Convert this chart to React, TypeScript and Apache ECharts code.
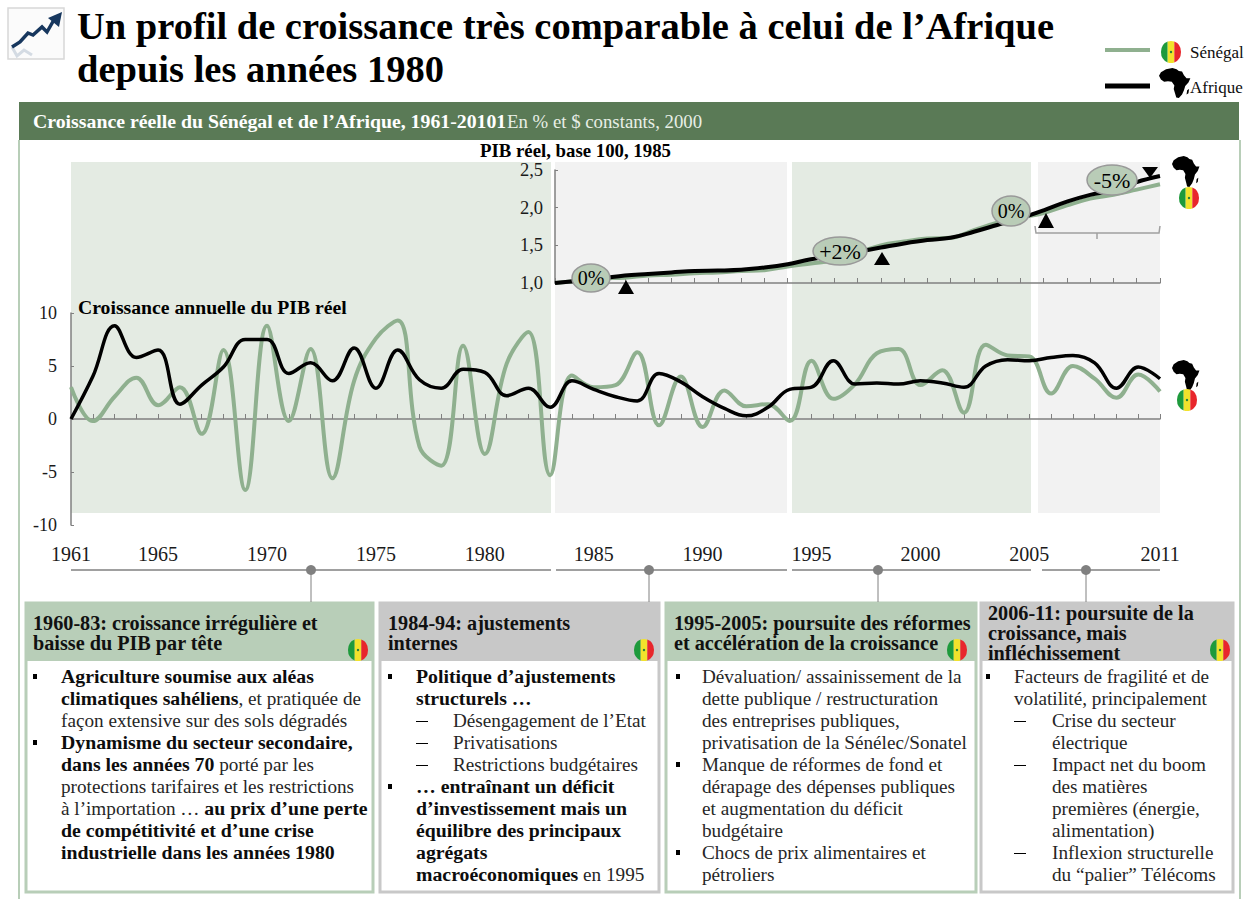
import React, { useEffect, useRef } from "react";
import * as echarts from "echarts";

const years = ["1961","1962","1963","1964","1965","1966","1967","1968","1969","1970","1971","1972","1973","1974","1975","1976","1977","1978","1979","1980","1981","1982","1983","1984","1985","1986","1987","1988","1989","1990","1991","1992","1993","1994","1995","1996","1997","1998","1999","2000","2001","2002","2003","2004","2005","2006","2007","2008","2009","2010","2011"];
const labelledYears = ["1961","1965","1970","1975","1980","1985","1990","1995","2000","2005","2011"];
const growthSenegal = [3.0,-0.2,2.1,3.9,1.3,3.0,-1.4,6.5,-6.7,8.8,-0.2,6.6,-5.6,3.6,7.6,9.3,-2.6,-4.4,6.9,-3.3,5.2,8.2,-5.3,4.1,3.0,3.2,6.3,-0.6,4.0,-0.75,2.7,1.2,1.4,-0.2,5.5,1.9,3.3,6.2,6.6,3.2,4.6,0.6,7.0,6.0,5.9,2.4,5.0,3.8,2.0,4.2,2.6];
const growthAfrica = [0,4.0,8.8,5.8,6.5,1.4,3.2,4.9,7.5,7.5,4.3,5.3,3.6,6.7,2.9,6.5,3.7,2.9,4.7,4.4,2.2,2.9,1.1,3.6,2.8,2.1,1.7,4.3,3.5,2.1,1.0,0.3,1.1,2.8,3.0,5.5,3.3,3.4,3.3,3.6,3.4,3.0,5.0,5.6,5.5,5.8,6.0,5.3,2.9,4.9,3.8];
const indexYears = ["1985","1986","1987","1988","1989","1990","1991","1992","1993","1994","1995","1996","1997","1998","1999","2000","2001","2002","2003","2004","2005","2006","2007","2008","2009","2010","2011"];
const indexSenegal = [1.0,1.03,1.06,1.07,1.10,1.11,1.13,1.14,1.16,1.17,1.22,1.26,1.30,1.40,1.50,1.55,1.59,1.60,1.70,1.80,1.87,1.93,2.03,2.12,2.17,2.24,2.31];
const indexAfrica = [1.0,1.03,1.06,1.10,1.12,1.14,1.16,1.165,1.175,1.205,1.25,1.315,1.36,1.415,1.47,1.525,1.57,1.60,1.68,1.77,1.86,1.965,2.08,2.17,2.23,2.34,2.42];

const titleLines = ["Un profil de croissance très comparable à celui de l’Afrique", "depuis les années 1980"];
const subtitleBold = "Croissance réelle du Sénégal et de l’Afrique, 1961-20101";
const subtitleUnit = "En % et $ constants, 2000";
const indexTitle = "PIB réel, base 100, 1985";
const growthTitle = "Croissance annuelle du PIB réel";

const F = '"Liberation Serif", serif';
const GREEN = "#8fb08f";
const INK = "#0d0d0d";
const GREY = "#808080";

const boxes = [
  { x: 25, w: 349, fill: "#b8ceb8", border: "#b8ceb8", tx: 33, ty: [623, 643], flag: 358, head: ["1960-83: croissance irrégulière et", "baisse du PIB par tête"], bx: 33, t1: 61, t2: 61,
    lines: [["b", "**Agriculture soumise aux aléas**"], ["", "**climatiques sahéliens**, et pratiquée de"], ["", "façon extensive sur des sols dégradés"], ["b", "**Dynamisme du secteur secondaire,**"], ["", "**dans les années 70** porté par les"], ["", "protections tarifaires et les restrictions"], ["", "à l’importation … **au prix d’une perte**"], ["", "**de compétitivité et d’une crise**"], ["", "**industrielle dans les années 1980**"]] },
  { x: 379, w: 281, fill: "#c8c8c8", border: "#c8c8c8", tx: 388, ty: [623, 643], flag: 644, head: ["1984-94: ajustements", "internes"], bx: 388, t1: 416, t2: 453,
    lines: [["b", "**Politique d’ajustements**"], ["", "**structurels …**"], ["d", "Désengagement de l’Etat"], ["d", "Privatisations"], ["d", "Restrictions budgétaires"], ["b", "**… entraînant un déficit**"], ["", "**d’investissement mais un**"], ["", "**équilibre des principaux**"], ["", "**agrégats**"], ["", "**macroéconomiques** en 1995"]] },
  { x: 665, w: 312, fill: "#b8ceb8", border: "#b8ceb8", tx: 674, ty: [623, 643], flag: 957, head: ["1995-2005: poursuite des réformes", "et accélération de la croissance"], bx: 676, t1: 702, t2: 702,
    lines: [["b", "Dévaluation/ assainissement de la"], ["", "dette publique / restructuration"], ["", "des entreprises publiques,"], ["", "privatisation de la Sénélec/Sonatel"], ["b", "Manque de réformes de fond et"], ["", "dérapage des dépenses publiques"], ["", "et augmentation du déficit"], ["", "budgétaire"], ["b", "Chocs de prix alimentaires et"], ["", "pétroliers"]] },
  { x: 980, w: 254, fill: "#c8c8c8", border: "#c8c8c8", tx: 988, ty: [613, 633, 653], flag: 1220, head: ["2006-11: poursuite de la", "croissance, mais", "infléchissement"], bx: 986, t1: 1014, t2: 1052,
    lines: [["b", "Facteurs de fragilité et de"], ["", "volatilité, principalement"], ["d", "Crise du secteur"], ["c", "électrique"], ["d", "Impact net du boom"], ["c", "des matières"], ["c", "premières (énergie,"], ["c", "alimentation)"], ["d", "Inflexion structurelle"], ["c", "du “palier” Télécoms"]] },
];

const bubbles = [
  { label: "0%", cx: 591, cy: 278, rx: 19, ry: 14 },
  { label: "+2%", cx: 840, cy: 251, rx: 27, ry: 14 },
  { label: "0%", cx: 1011, cy: 211, rx: 19, ry: 15 },
  { label: "-5%", cx: 1112, cy: 180, rx: 25, ry: 15 },
];
const timeline = [
  { x1: 71, x2: 551, dot: 311 },
  { x1: 556, x2: 787, dot: 649 },
  { x1: 792, x2: 1031, dot: 878 },
  { x1: 1042, x2: 1160, dot: 1086 },
];
const bands = [
  { x1: 71, x2: 551, fill: "#e4ebe3" },
  { x1: 555, x2: 787, fill: "#f2f2f2" },
  { x1: 792, x2: 1031, fill: "#e4ebe3" },
  { x1: 1038, x2: 1160, fill: "#f2f2f2" },
];

echarts.graphic.registerShape("africa", echarts.graphic.extendPath("M22 4 L42 0 L55 4 L62 10 L72 12 L78 24 L86 34 L98 34 L92 48 L82 60 L78 74 L72 88 L62 100 L54 98 L50 84 L46 70 L48 58 L40 46 L28 44 L16 46 L6 38 L0 26 L6 14 Z M88 74 L94 70 L92 84 L86 88 Z", {}));
echarts.graphic.registerShape("flagL", echarts.graphic.extendPath("M-3.3 -9.44 A10 10 0 0 0 -3.3 9.44 Z", {}));
echarts.graphic.registerShape("flagM", echarts.graphic.extendPath("M-3.3 -9.44 A10 10 0 0 1 3.3 -9.44 L3.3 9.44 A10 10 0 0 1 -3.3 9.44 Z", {}));
echarts.graphic.registerShape("flagR", echarts.graphic.extendPath("M3.3 -9.44 A10 10 0 0 1 3.3 9.44 Z", {}));

const flag = (x: number, y: number, z = 50) => ({
  type: "group", x, y, z,
  children: [
    { type: "flagL", scaleY: 1.1, style: { fill: "#1e9a3c" }, z },
    { type: "flagM", scaleY: 1.1, style: { fill: "#f2e22c" }, z },
    { type: "flagR", scaleY: 1.1, style: { fill: "#e8262c" }, z },
    { type: "circle", shape: { cx: 0, cy: 0, r: 1.2 }, style: { fill: "#1e7a3c" }, z: z + 1 },
  ],
});
const africa = (x: number, y: number, w: number, h: number) => ({
  type: "africa", x, y, scaleX: w / 100, scaleY: h / 100, style: { fill: "#000" }, z: 50,
});
const text = (x: number, y: number, s: string, size: number, weight: string | number = "normal", fill = INK, align = "left") => ({
  type: "text", x, y, z: 60,
  style: { text: s, fontFamily: F, fontSize: size, fontWeight: weight, fill, align, verticalAlign: "middle" },
});
const richLine = (x: number, y: number, s: string) => {
  const parts = s.split("**");
  const str = parts.map((p, i) => (p ? `{${i % 2 ? "b" : "n"}|${p}}` : "")).join("");
  return {
    type: "text", x, y, z: 60,
    style: {
      text: str, fontFamily: F, fontSize: 19.2, fill: INK, align: "left", verticalAlign: "middle",
      rich: {
        b: { fontFamily: F, fontSize: 19.8, fontWeight: "bold", fill: INK },
        n: { fontFamily: F, fontSize: 19.2, fill: "#262626" },
      },
    },
  };
};

const buildGraphics = () => {
  const g: any[] = [];
  bands.forEach((b) => g.push({ type: "rect", z: -10, shape: { x: b.x1, y: 162, width: b.x2 - b.x1, height: 351 }, style: { fill: b.fill } }));
  // frame
  g.push({ type: "rect", z: 1, shape: { x: 19, y: 102, width: 1220, height: 38 }, style: { fill: "#5a7a56" } });
  g.push({ type: "line", z: 1, shape: { x1: 19, y1: 140, x2: 19, y2: 899 }, style: { stroke: "#b8ceb8", lineWidth: 2 } });
  g.push({ type: "line", z: 1, shape: { x1: 1240, y1: 140, x2: 1240, y2: 899 }, style: { stroke: "#b8ceb8", lineWidth: 2 } });
  // logo
  g.push({ type: "rect", z: 1, shape: { x: 8, y: 8, width: 56, height: 51 }, style: { fill: "#fbfbfb", stroke: "#d8d8d8", lineWidth: 1.5 } });
  g.push({ type: "polyline", z: 2, shape: { points: [[12, 47], [17, 56], [24, 50], [32, 55]] }, style: { stroke: "#d4dbe3", fill: "none", lineWidth: 3 } });
  g.push({ type: "polyline", z: 3, shape: { points: [[12, 47], [20, 42], [28, 33], [33, 35], [42, 27], [47, 32], [55, 18]] }, style: { stroke: "#17375e", fill: "none", lineWidth: 3.5 } });
  g.push({ type: "polygon", z: 3, shape: { points: [[62, 12], [59, 27], [48, 18]] }, style: { fill: "#17375e" } });
  // title
  titleLines.forEach((t, i) => g.push(text(77, i ? 69 : 26, t, 38.5, "bold", "#000")));
  // legend
  g.push({ type: "line", z: 5, shape: { x1: 1105, y1: 50, x2: 1150, y2: 50 }, style: { stroke: GREEN, lineWidth: 4 } });
  g.push({ type: "line", z: 5, shape: { x1: 1105, y1: 86, x2: 1150, y2: 86 }, style: { stroke: "#000", lineWidth: 5 } });
  g.push(flag(1171, 52));
  g.push(africa(1159, 68, 32, 30));
  g.push(text(1190, 52, "Sénégal", 17));
  g.push(text(1190, 87, "Afrique", 17));
  // header texts
  g.push(text(33, 121, subtitleBold, 19.8, "bold", "#fff"));
  g.push(text(507, 121, subtitleUnit, 18.8, "normal", "#e8efe6"));
  g.push(text(480, 150, indexTitle, 18.8, "bold", "#000"));
  g.push(text(78, 307, growthTitle, 19.7, "bold", "#000"));
  // series end marks
  g.push(africa(1172, 156, 28, 31));
  g.push(flag(1189, 198));
  g.push(africa(1172, 360, 28, 31));
  g.push(flag(1187, 400));
  // bubbles and triangles
  bubbles.forEach((b) => {
    g.push({ type: "ellipse", z: 40, shape: { cx: b.cx, cy: b.cy, rx: b.rx, ry: b.ry }, style: { fill: "#b9ccb7", stroke: "#999", lineWidth: 1.5 } });
    g.push(text(b.cx, b.cy, b.label, b.label.length > 2 ? 22 : 20, "normal", "#000", "center"));
  });
  [[626, 280, 294], [882, 252, 265], [1046, 213, 228]].forEach(([x, a, b]) =>
    g.push({ type: "polygon", z: 45, shape: { points: [[x, a], [x + 8, b], [x - 8, b]] }, style: { fill: "#000" } }));
  g.push({ type: "polygon", z: 45, shape: { points: [[1142, 167], [1158, 167], [1150, 178]] }, style: { fill: "#000" } });
  g.push({ type: "polyline", z: 8, shape: { points: [[1035, 226], [1036, 233], [1159, 233], [1160, 226]] }, style: { stroke: "#a0a0a0", lineWidth: 1.5, fill: "none" } });
  g.push({ type: "line", z: 8, shape: { x1: 1097, y1: 233, x2: 1097, y2: 239 }, style: { stroke: "#a0a0a0", lineWidth: 1.5 } });
  // timeline and boxes
  timeline.forEach((t) => {
    g.push({ type: "line", z: 5, shape: { x1: t.x1, y1: 570, x2: t.x2, y2: 570 }, style: { stroke: GREY, lineWidth: 1.5 } });
    g.push({ type: "line", z: 5, shape: { x1: t.dot, y1: 570, x2: t.dot, y2: 602 }, style: { stroke: GREY, lineWidth: 1 } });
    g.push({ type: "circle", z: 6, shape: { cx: t.dot, cy: 570, r: 5 }, style: { fill: GREY } });
  });
  boxes.forEach((b) => {
    g.push({ type: "rect", z: 2, shape: { x: b.x + 1, y: 603, width: b.w - 2, height: 289 }, style: { fill: "#fff", stroke: b.border, lineWidth: 3 } });
    g.push({ type: "rect", z: 3, shape: { x: b.x, y: 602, width: b.w, height: 59 }, style: { fill: b.fill } });
    b.head.forEach((h, i) => g.push(text(b.tx, b.ty[i], h, 20.2, "bold", "#111")));
    g.push(flag(b.flag, 650));
    b.lines.forEach(([kind, s], i) => {
      const y = 676 + i * 22;
      if (kind === "b") g.push({ type: "rect", z: 60, shape: { x: b.bx, y: y - 2, width: 4, height: 5 }, style: { fill: "#000" } });
      if (kind === "d") g.push({ type: "rect", z: 60, shape: { x: b.t1, y: y + 1, width: 12, height: 1 }, style: { fill: "#000" } });
      const tx = kind === "d" || kind === "c" ? b.t2 : b.t1;
      g.push(richLine(tx, y, s as string));
    });
  });
  return g;
};

export default function App() {
  const ref = useRef<HTMLDivElement>(null);
  useEffect(() => {
    const chart = echarts.init(ref.current!, null, { renderer: "svg" });
    const axisColor = { lineStyle: { color: GREY, width: 1.5 } };
    chart.setOption({
      animation: false,
      backgroundColor: "#fff",
      grid: [
        { left: 71, top: 313, width: 1089, height: 212, containLabel: false },
        { left: 555, top: 170, width: 605, height: 113, containLabel: false },
      ],
      xAxis: [
        { type: "category", gridIndex: 0, data: years, boundaryGap: false, position: "bottom", axisLine: { onZero: true, ...axisColor }, axisTick: { inside: true, length: 5, interval: 0, lineStyle: { color: GREY } }, axisLabel: { show: false }, splitLine: { show: false }, z: 3 },
        { type: "category", gridIndex: 0, data: years, boundaryGap: false, position: "bottom", axisLine: { show: false, onZero: false }, axisTick: { show: false },
          axisLabel: { show: true, margin: 19, interval: (_: number, v: string) => labelledYears.includes(v), fontFamily: F, fontSize: 20, color: "#1a1a1a", hideOverlap: false }, splitLine: { show: false } },
        { type: "category", gridIndex: 1, data: indexYears, boundaryGap: false, position: "bottom", axisLine: { onZero: false, ...axisColor }, axisTick: { inside: true, length: 5, interval: 0, lineStyle: { color: GREY } }, axisLabel: { show: false }, splitLine: { show: false } },
      ],
      yAxis: [
        { type: "value", gridIndex: 0, min: -10, max: 10, interval: 5, axisLine: { show: true, onZero: false, ...axisColor }, axisTick: { show: true, inside: true, length: 3, lineStyle: { color: GREY } }, axisLabel: { margin: 14, fontFamily: F, fontSize: 18, color: "#1a1a1a" }, splitLine: { show: false } },
        { type: "value", gridIndex: 1, min: 1, max: 2.5, interval: 0.5, axisLine: { show: true, onZero: false, ...axisColor }, axisTick: { show: true, inside: true, length: 3, lineStyle: { color: GREY } }, axisLabel: { margin: 12, fontFamily: F, fontSize: 18.5, color: "#1a1a1a", formatter: (v: number) => v.toFixed(1).replace(".", ",") }, splitLine: { show: false } },
      ],
      series: [
        { name: "Sénégal", type: "line", xAxisIndex: 0, yAxisIndex: 0, data: growthSenegal, smooth: 0.4, symbol: "none", lineStyle: { color: GREEN, width: 4 }, z: 5 },
        { name: "Afrique", type: "line", xAxisIndex: 0, yAxisIndex: 0, data: growthAfrica, smooth: 0.4, symbol: "none", lineStyle: { color: "#000", width: 3.5 }, z: 6 },
        { name: "Sénégal PIB", type: "line", xAxisIndex: 2, yAxisIndex: 1, data: indexSenegal, smooth: 0.4, symbol: "none", lineStyle: { color: GREEN, width: 4 }, z: 5 },
        { name: "Afrique PIB", type: "line", xAxisIndex: 2, yAxisIndex: 1, data: indexAfrica, smooth: 0.4, symbol: "none", lineStyle: { color: "#000", width: 4 }, z: 6 },
      ],
      graphic: buildGraphics(),
    });
    return () => chart.dispose();
  }, []);
  return <div ref={ref} style={{ position: "absolute", left: 0, top: 0, width: 1256, height: 899 }} />;
}
